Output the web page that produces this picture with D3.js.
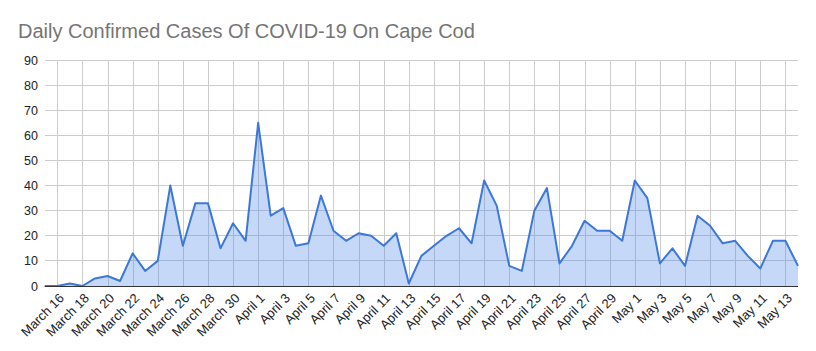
<!DOCTYPE html>
<html><head><meta charset="utf-8">
<script src="https://cdn.jsdelivr.net/npm/d3@7"></script>
<style>body{margin:0;background:#fff;}svg{display:block;font-family:"Liberation Sans",Arial,sans-serif;}</style>
</head><body>
<svg id="c" width="816" height="351"></svg>
<script>
const startDate = "2020-03-15";
const cases = [0,0,1,0,3,4,2,13,6,10,40,16,33,33,15,25,18,65,28,31,16,17,36,22,18,21,20,16,21,1,12,16,20,23,17,42,32,8,6,30,39,9,16,26,22,22,18,42,35,9,15,8,28,24,17,18,12,7,18,18,8];
const yTicks = [0,10,20,30,40,50,60,70,80,90];
const monthNames = ["January","February","March","April","May","June"];
const title = "Daily Confirmed Cases Of COVID-19 On Cape Cod";

const parse = d3.timeParse("%Y-%m-%d");
const t0 = parse(startDate);
const data = cases.map((v,i)=>({date:d3.timeDay.offset(t0,i), v}));
const tickDates = data.filter((d,i)=>i%2===1).map(d=>d.date);

const svg = d3.select("#c");
const x = d3.scaleTime().domain([data[0].date, data[data.length-1].date]).range([44.75, 798]);
const y = d3.scaleLinear().domain([0,90]).range([286,60]);

svg.append("text").attr("x",18).attr("y",38).attr("fill","#757575")
  .attr("font-size",20).text(title);

// horizontal grid
svg.append("g").selectAll("line").data(yTicks.filter(t=>t>0)).join("line")
  .attr("x1",44.75).attr("x2",798).attr("y1",d=>y(d)).attr("y2",d=>y(d))
  .attr("stroke","#cccccc").attr("stroke-width",1).attr("shape-rendering","crispEdges");
// vertical grid
svg.append("g").selectAll("line").data(tickDates).join("line")
  .attr("x1",d=>Math.round(x(d))+0.5).attr("x2",d=>Math.round(x(d))+0.5).attr("y1",y(90)).attr("y2",y(0))
  .attr("stroke","#cccccc").attr("stroke-width",1);

// area + line
svg.append("path").datum(data)
  .attr("d", d3.area().x(d=>x(d.date)).y0(y(0)).y1(d=>y(d.v)))
  .attr("fill","#4a86e8").attr("fill-opacity",0.32);
svg.append("path").datum(data)
  .attr("d", d3.line().x(d=>x(d.date)).y(d=>y(d.v)))
  .attr("fill","none").attr("stroke","#3c78d8").attr("stroke-width",2).attr("stroke-linejoin","round");

// baseline
svg.append("line").attr("x1",44.75).attr("x2",798).attr("y1",y(0)+0.5).attr("y2",y(0)+0.5)
  .attr("stroke","#333").attr("stroke-width",1);

// y axis labels
const yAxis = d3.axisLeft(y).tickValues(yTicks).tickSize(0).tickPadding(0);
const gy = svg.append("g").attr("transform","translate(38,0)").call(yAxis);
gy.select(".domain").remove();
gy.selectAll("text").attr("font-size",12.5).attr("fill","#222").attr("font-family","Liberation Sans, Arial, sans-serif");

// x axis labels
const xAxis = d3.axisBottom(x).tickValues(tickDates).tickSize(0)
  .tickFormat(d=>monthNames[d.getMonth()]+" "+d.getDate());
const gx = svg.append("g").attr("transform",`translate(0,${y(0)})`).call(xAxis);
gx.select(".domain").remove();
gx.selectAll("text").attr("font-size",13).attr("fill","#222")
  .attr("font-family","Liberation Sans, Arial, sans-serif")
  .attr("text-anchor","end").attr("dy",null).attr("y",0)
  .attr("transform","translate(7,13) rotate(-45)");
</script>
</body></html>
